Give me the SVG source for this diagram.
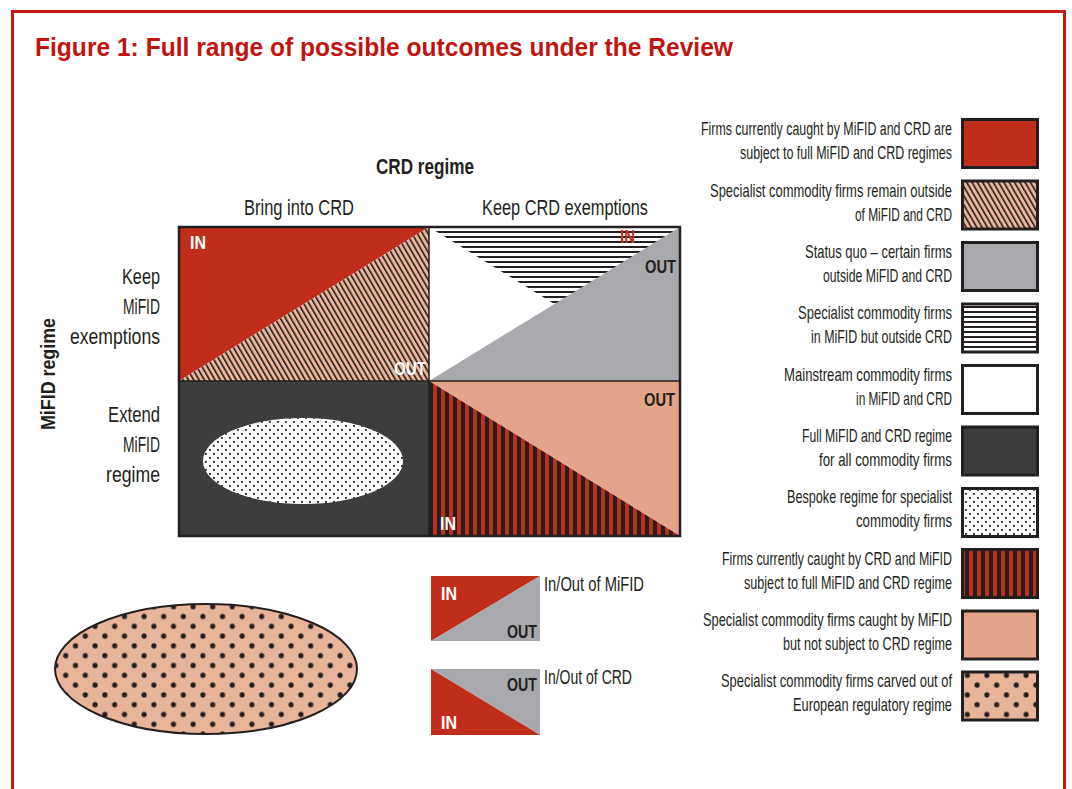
<svg xmlns="http://www.w3.org/2000/svg" width="1072" height="789" viewBox="0 0 1072 789">
  <style>
    .t { font-family: "Liberation Sans", Arial, sans-serif; fill: #231f20; }
    .lg { font-size: 18.5px; text-anchor: end; }
    .hd { font-size: 21.5px; }
    .tag { font-family: "Liberation Sans", Arial, sans-serif; font-weight: bold; font-size: 19px; }
    .box { stroke: #231f20; stroke-width: 3; }
  </style>
  <defs>
    <pattern id="hatch" patternUnits="userSpaceOnUse" width="4.6" height="10" patternTransform="rotate(-30)">
      <rect width="4.6" height="10" fill="#e8b49a"/>
      <rect width="1.6" height="10" fill="#231f20"/>
    </pattern>
    <pattern id="hlines" patternUnits="userSpaceOnUse" width="10" height="5" y="1">
      <rect width="10" height="5" fill="#ffffff"/>
      <rect width="10" height="2" fill="#231f20"/>
    </pattern>
    <pattern id="vstripes" patternUnits="userSpaceOnUse" width="8" height="10" x="429">
      <rect width="8" height="10" fill="#c12d1b"/>
      <rect width="4" height="10" fill="#231f20"/>
    </pattern>
    <pattern id="finedots" patternUnits="userSpaceOnUse" width="8" height="8">
      <rect width="8" height="8" fill="#ffffff"/>
      <rect x="1" y="1" width="1.8" height="1.8" fill="#231f20"/>
      <rect x="5" y="5" width="1.8" height="1.8" fill="#231f20"/>
    </pattern>
    <pattern id="bigdots" patternUnits="userSpaceOnUse" width="19.6" height="19.6" x="2" y="4">
      <rect width="19.6" height="19.6" fill="#e8b49a"/>
      <circle cx="4.9" cy="4.9" r="2.6" fill="#231f20"/>
      <circle cx="14.7" cy="14.7" r="2.6" fill="#231f20"/>
    </pattern>
  </defs>

  <!-- page frame -->
  <path d="M12.5,789 V11.5 H1064.5 V789" fill="none" stroke="#c41a10" stroke-width="3"/>

  <text x="35" y="56" font-family="'Liberation Sans', Arial, sans-serif" font-weight="bold" font-size="25" fill="#c0150f" textLength="698" lengthAdjust="spacingAndGlyphs">Figure 1: Full range of possible outcomes under the Review</text>

  <!-- axis headings -->
  <g id="axis-labels">
    <text class="t" x="425" y="174" font-size="22" font-weight="bold" text-anchor="middle" textLength="98" lengthAdjust="spacingAndGlyphs">CRD regime</text>
    <text class="t hd" x="299" y="215" text-anchor="middle" textLength="110" lengthAdjust="spacingAndGlyphs">Bring into CRD</text>
    <text class="t hd" x="565" y="215" text-anchor="middle" textLength="166" lengthAdjust="spacingAndGlyphs">Keep CRD exemptions</text>
    <text class="t hd" x="160" y="284" text-anchor="end" textLength="38" lengthAdjust="spacingAndGlyphs">Keep</text>
    <text class="t hd" x="160" y="314" text-anchor="end" textLength="37" lengthAdjust="spacingAndGlyphs">MiFID</text>
    <text class="t hd" x="160" y="344" text-anchor="end" textLength="90" lengthAdjust="spacingAndGlyphs">exemptions</text>
    <text class="t hd" x="160" y="422" text-anchor="end" textLength="52" lengthAdjust="spacingAndGlyphs">Extend</text>
    <text class="t hd" x="160" y="452" text-anchor="end" textLength="37" lengthAdjust="spacingAndGlyphs">MiFID</text>
    <text class="t hd" x="160" y="482" text-anchor="end" textLength="54" lengthAdjust="spacingAndGlyphs">regime</text>
    <text class="t" transform="translate(55,374) rotate(-90)" font-size="21" font-weight="bold" text-anchor="middle" textLength="112" lengthAdjust="spacingAndGlyphs">MiFID regime</text>
  </g>

  <!-- top-left: bring into CRD / keep MiFID exemptions -->
  <g id="cell-tl">
    <polygon points="179,227 429,227 179,381" fill="#c12d1b"/>
    <polygon points="429,227 429,381 179,381" fill="url(#hatch)"/>
    <text class="tag" x="190" y="249" fill="#ffffff" textLength="16" lengthAdjust="spacingAndGlyphs">IN</text>
    <text class="tag" x="394" y="375" fill="#ffffff" textLength="32" lengthAdjust="spacingAndGlyphs">OUT</text>
  </g>

  <!-- top-right: keep CRD exemptions / keep MiFID exemptions -->
  <g id="cell-tr">
    <rect x="429" y="227" width="251" height="154" fill="#ffffff"/>
    <polygon points="429,227 680,227 680,381" fill="url(#hlines)"/>
    <polygon points="429,381 680,227 680,381" fill="#a7a9ac"/>
    <text class="tag" x="620" y="243" fill="#c12d1b" font-size="16" textLength="15" lengthAdjust="spacingAndGlyphs">IN</text>
    <text class="tag" x="645" y="273" textLength="31" lengthAdjust="spacingAndGlyphs" fill="#231f20">OUT</text>
  </g>

  <!-- bottom-left: bring into CRD / extend MiFID -->
  <g id="cell-bl">
    <rect x="179" y="381" width="250" height="155" fill="#3d3d3d"/>
    <ellipse cx="303" cy="461" rx="100" ry="43" fill="url(#finedots)"/>
  </g>

  <!-- bottom-right: keep CRD exemptions / extend MiFID -->
  <g id="cell-br">
    <rect x="429" y="381" width="251" height="155" fill="#e4a48a"/>
    <polygon points="429,381 680,536 429,536" fill="url(#vstripes)"/>
    <text class="tag" x="644" y="406" textLength="31" lengthAdjust="spacingAndGlyphs" fill="#231f20">OUT</text>
    <text class="tag" x="440" y="530" fill="#ffffff" textLength="16" lengthAdjust="spacingAndGlyphs">IN</text>
  </g>

  <!-- grid lines -->
  <g id="connectors" fill="none" stroke="#231f20">
    <rect x="179" y="227" width="501" height="309" stroke-width="2.5"/>
    <line x1="429" y1="227" x2="429" y2="536" stroke-width="1.5"/>
    <line x1="179" y1="381" x2="680" y2="381" stroke-width="1.5"/>
  </g>

  <!-- carved-out ellipse -->
  <g id="carved-out">
    <ellipse cx="206" cy="669" rx="151" ry="65" fill="url(#bigdots)" stroke="#231f20" stroke-width="2"/>
  </g>

  <!-- in/out keys -->
  <g id="key-mifid">
    <polygon points="431,576 540,576 431,641" fill="#c12d1b"/>
    <polygon points="540,576 540,641 431,641" fill="#a7a9ac"/>
    <text class="tag" x="441" y="600" fill="#ffffff" textLength="16" lengthAdjust="spacingAndGlyphs">IN</text>
    <text class="tag" x="507" y="638" fill="#231f20" textLength="30" lengthAdjust="spacingAndGlyphs">OUT</text>
    <text class="t" x="544" y="591" font-size="19.5" textLength="100" lengthAdjust="spacingAndGlyphs">In/Out of MiFID</text>
  </g>
  <g id="key-crd">
    <polygon points="431,669 540,669 540,735" fill="#a7a9ac"/>
    <polygon points="431,669 540,735 431,735" fill="#c12d1b"/>
    <text class="tag" x="507" y="691" fill="#231f20" textLength="30" lengthAdjust="spacingAndGlyphs">OUT</text>
    <text class="tag" x="441" y="729" fill="#ffffff" textLength="16" lengthAdjust="spacingAndGlyphs">IN</text>
    <text class="t" x="544" y="684" font-size="19.5" textLength="88" lengthAdjust="spacingAndGlyphs">In/Out of CRD</text>
  </g>

  <!-- legend -->
  <g id="legend-1">
    <rect class="box" x="962.5" y="119.5" width="75" height="48" fill="#c12d1b"/>
    <text class="t lg" x="952" y="135" textLength="251" lengthAdjust="spacingAndGlyphs">Firms currently caught by MiFID and CRD are</text>
    <text class="t lg" x="952" y="159" textLength="212" lengthAdjust="spacingAndGlyphs">subject to full MiFID and CRD regimes</text>
  </g>
  <g id="legend-2">
    <rect class="box" x="962.5" y="181" width="75" height="48" fill="url(#hatch)"/>
    <text class="t lg" x="952" y="197" textLength="242" lengthAdjust="spacingAndGlyphs">Specialist commodity firms remain outside</text>
    <text class="t lg" x="952" y="221" textLength="97" lengthAdjust="spacingAndGlyphs">of MiFID and CRD</text>
  </g>
  <g id="legend-3">
    <rect class="box" x="962.5" y="242.5" width="75" height="48" fill="#a7a9ac"/>
    <text class="t lg" x="952" y="258" textLength="147" lengthAdjust="spacingAndGlyphs">Status quo – certain firms</text>
    <text class="t lg" x="952" y="282" textLength="129" lengthAdjust="spacingAndGlyphs">outside MiFID and CRD</text>
  </g>
  <g id="legend-4">
    <rect class="box" x="962.5" y="304" width="75" height="48" fill="url(#hlines)"/>
    <text class="t lg" x="952" y="319" textLength="154" lengthAdjust="spacingAndGlyphs">Specialist commodity firms</text>
    <text class="t lg" x="952" y="343" textLength="141" lengthAdjust="spacingAndGlyphs">in MiFID but outside CRD</text>
  </g>
  <g id="legend-5">
    <rect class="box" x="962.5" y="365.5" width="75" height="48" fill="#ffffff"/>
    <text class="t lg" x="952" y="381" textLength="168" lengthAdjust="spacingAndGlyphs">Mainstream commodity firms</text>
    <text class="t lg" x="952" y="405" textLength="96" lengthAdjust="spacingAndGlyphs">in MiFID and CRD</text>
  </g>
  <g id="legend-6">
    <rect class="box" x="962.5" y="427" width="75" height="48" fill="#3d3d3d"/>
    <text class="t lg" x="952" y="442" textLength="150" lengthAdjust="spacingAndGlyphs">Full MiFID and CRD regime</text>
    <text class="t lg" x="952" y="466" textLength="133" lengthAdjust="spacingAndGlyphs">for all commodity firms</text>
  </g>
  <g id="legend-7">
    <rect class="box" x="962.5" y="488.5" width="75" height="48" fill="url(#finedots)"/>
    <text class="t lg" x="952" y="503" textLength="165" lengthAdjust="spacingAndGlyphs">Bespoke regime for specialist</text>
    <text class="t lg" x="952" y="527" textLength="96" lengthAdjust="spacingAndGlyphs">commodity firms</text>
  </g>
  <g id="legend-8">
    <rect class="box" x="962.5" y="549.5" width="75" height="48" fill="url(#vstripes)"/>
    <text class="t lg" x="952" y="565" textLength="230" lengthAdjust="spacingAndGlyphs">Firms currently caught by CRD and MiFID</text>
    <text class="t lg" x="952" y="589" textLength="208" lengthAdjust="spacingAndGlyphs">subject to full MiFID and CRD regime</text>
  </g>
  <g id="legend-9">
    <rect class="box" x="962.5" y="611" width="75" height="48" fill="#e4a48a"/>
    <text class="t lg" x="952" y="626" textLength="249" lengthAdjust="spacingAndGlyphs">Specialist commodity firms caught by MiFID</text>
    <text class="t lg" x="952" y="650" textLength="169" lengthAdjust="spacingAndGlyphs">but not subject to CRD regime</text>
  </g>
  <g id="legend-10">
    <rect class="box" x="962.5" y="672" width="75" height="48" fill="url(#bigdots)"/>
    <text class="t lg" x="952" y="687" textLength="231" lengthAdjust="spacingAndGlyphs">Specialist commodity firms carved out of</text>
    <text class="t lg" x="952" y="711" textLength="159" lengthAdjust="spacingAndGlyphs">European regulatory regime</text>
  </g>
</svg>
